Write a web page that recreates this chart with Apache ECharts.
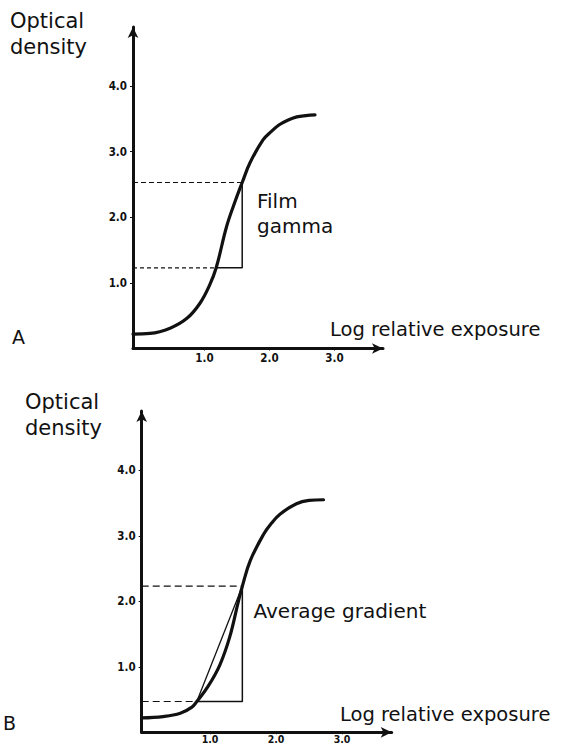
<!DOCTYPE html>
<html>
<head>
<meta charset="utf-8">
<script src="https://cdn.jsdelivr.net/npm/echarts@6/dist/echarts.min.js"></script>
<style>
html,body{margin:0;padding:0;background:#fff;}
#chart{width:567px;height:746px;}
</style>
</head>
<body>
<div id="chart"></div>
<script>
// ---- Panel A: characteristic curve with film gamma ----
const logExposureA = [-0.1, 0.16, 0.47, 0.73, 0.93, 1.08, 1.18, 1.34, 1.47, 1.58, 1.70, 1.90, 2.03, 2.15, 2.28, 2.42, 2.56, 2.70];
const densityA     = [0.22, 0.23, 0.31, 0.46, 0.69, 0.97, 1.23, 1.86, 2.24, 2.53, 2.83, 3.18, 3.31, 3.41, 3.48, 3.53, 3.55, 3.56];
const gammaLowA  = [1.18, 1.23];
const gammaHighA = [1.58, 2.53];

// ---- Panel B: characteristic curve with average gradient ----
const logExposureB = [-0.035, 0.29, 0.55, 0.72, 0.80, 0.97, 1.15, 1.30, 1.43, 1.49, 1.61, 1.81, 1.93, 2.06, 2.31, 2.50, 2.72];
const densityB     = [0.22, 0.24, 0.29, 0.38, 0.47, 0.70, 1.03, 1.46, 2.00, 2.23, 2.62, 3.02, 3.19, 3.33, 3.49, 3.54, 3.55];
const gradLowB  = [0.80, 0.47];
const gradHighB = [1.49, 2.23];

// ---- Tick labels ----
const xTickValues = [1, 2, 3];
const yTickValues = [1, 2, 3, 4];

// axis extents
const xRangeA = [-0.1, 3.746];
const yRangeA = [0, 4.90];
const xRangeB = [-0.035, 3.753];
const yRangeB = [0, 4.905];

const INK = '#111';
const TEXT_FONT = '"DejaVu Sans", "Liberation Sans", sans-serif';
const TICK_FONT = '"Liberation Sans Narrow", "DejaVu Sans Condensed", "Liberation Sans", sans-serif';

const zip = (xs, ys) => xs.map((x, i) => [x, ys[i]]);

function xAxisCfg(idx, range, labelMargin, fontSize) {
  return {
    type: 'value', gridIndex: idx, min: range[0], max: range[1],
    axisLine: { show: true, onZero: false, symbol: ['none', 'arrow'], symbolSize: [8, 11],
      lineStyle: { color: INK, width: 3 } },
    axisTick: { show: true, length: 2, inside: false, customValues: xTickValues,
      lineStyle: { color: INK, width: 1 } },
    axisLabel: { show: true, customValues: xTickValues, margin: labelMargin,
      formatter: v => v.toFixed(1), color: INK, fontSize: fontSize, fontWeight: 'bold', fontFamily: TICK_FONT },
    splitLine: { show: false }
  };
}
function yAxisCfg(idx, range) {
  return {
    type: 'value', gridIndex: idx, min: range[0], max: range[1],
    axisLine: { show: true, onZero: false, symbol: ['none', 'arrow'], symbolSize: [8, 11],
      lineStyle: { color: INK, width: 3 } },
    axisTick: { show: true, length: 3, inside: false, customValues: yTickValues,
      lineStyle: { color: INK, width: 1 } },
    axisLabel: { show: true, customValues: yTickValues, margin: 6,
      formatter: v => v.toFixed(1), color: INK, fontSize: 11.5, fontWeight: 'bold', fontFamily: TICK_FONT },
    splitLine: { show: false }
  };
}

function lineSeries(name, idx, data, style, z) {
  return {
    name, type: 'line', xAxisIndex: idx, yAxisIndex: idx, data,
    showSymbol: false, symbol: 'none', silent: true, animation: false, z: z || 2,
    lineStyle: Object.assign({ color: INK }, style)
  };
}

const series = [
  // Panel A
  lineSeries('Dashed upper A', 0, [[xRangeA[0], gammaHighA[1]], gammaHighA], { width: 1.2, type: [5, 3] }),
  lineSeries('Dashed lower A', 0, [[xRangeA[0], gammaLowA[1]], gammaLowA], { width: 1.2, type: [4, 3] }),
  lineSeries('Gamma triangle A', 0, [gammaLowA, [gammaHighA[0], gammaLowA[1]], gammaHighA], { width: 1.5 }),
  Object.assign(lineSeries('Characteristic curve A', 0, zip(logExposureA, densityA), { width: 3.2, join: 'round', cap: 'round' }, 5),
    { smooth: 0.4 }),
  // Panel B
  lineSeries('Dashed upper B', 1, [[xRangeB[0], gradHighB[1]], gradHighB], { width: 1.2, type: [7, 4] }),
  lineSeries('Dashed lower B', 1, [[xRangeB[0], gradLowB[1]], gradLowB], { width: 1.2, type: [7, 4] }),
  lineSeries('Gradient triangle B', 1, [gradLowB, [gradHighB[0], gradLowB[1]], gradHighB], { width: 1.5 }),
  lineSeries('Chord B', 1, [gradLowB, gradHighB], { width: 1.3 }),
  Object.assign(lineSeries('Characteristic curve B', 1, zip(logExposureB, densityB), { width: 3.2, join: 'round', cap: 'round' }, 5),
    { smooth: 0.4 })
];

function txt(text, x, y, size, lineHeight) {
  return {
    type: 'text', x, y, silent: true,
    style: {
      text, fill: INK, font: size + 'px ' + TEXT_FONT,
      textAlign: 'left', textVerticalAlign: 'top', lineHeight: lineHeight || 26
    }
  };
}

const chart = echarts.init(document.getElementById('chart'), null, { renderer: 'svg' });
chart.setOption({
  backgroundColor: '#fff',
  animation: false,
  grid: [
    { left: 133, top: 27, width: 250, height: 321.5, outerBoundsMode: 'none', containLabel: false },
    { left: 141.7, top: 411, width: 250, height: 321.3, outerBoundsMode: 'none', containLabel: false }
  ],
  xAxis: [xAxisCfg(0, xRangeA, 3, 11.5), xAxisCfg(1, xRangeB, 1, 10.5)],
  yAxis: [yAxisCfg(0, yRangeA), yAxisCfg(1, yRangeB)],
  series,
  graphic: [
    txt('Optical\ndensity', 10, 8, 21),
    txt('A', 12, 324, 19),
    txt('Log relative exposure', 330, 316, 19.5),
    txt('Film\ngamma', 257, 188, 20, 25),
    txt('Optical\ndensity', 25, 389, 21),
    txt('B', 3, 710, 19),
    txt('Average gradient', 253.5, 598, 20),
    txt('Log relative exposure', 340, 701, 19.5)
  ]
});
</script>
</body>
</html>
